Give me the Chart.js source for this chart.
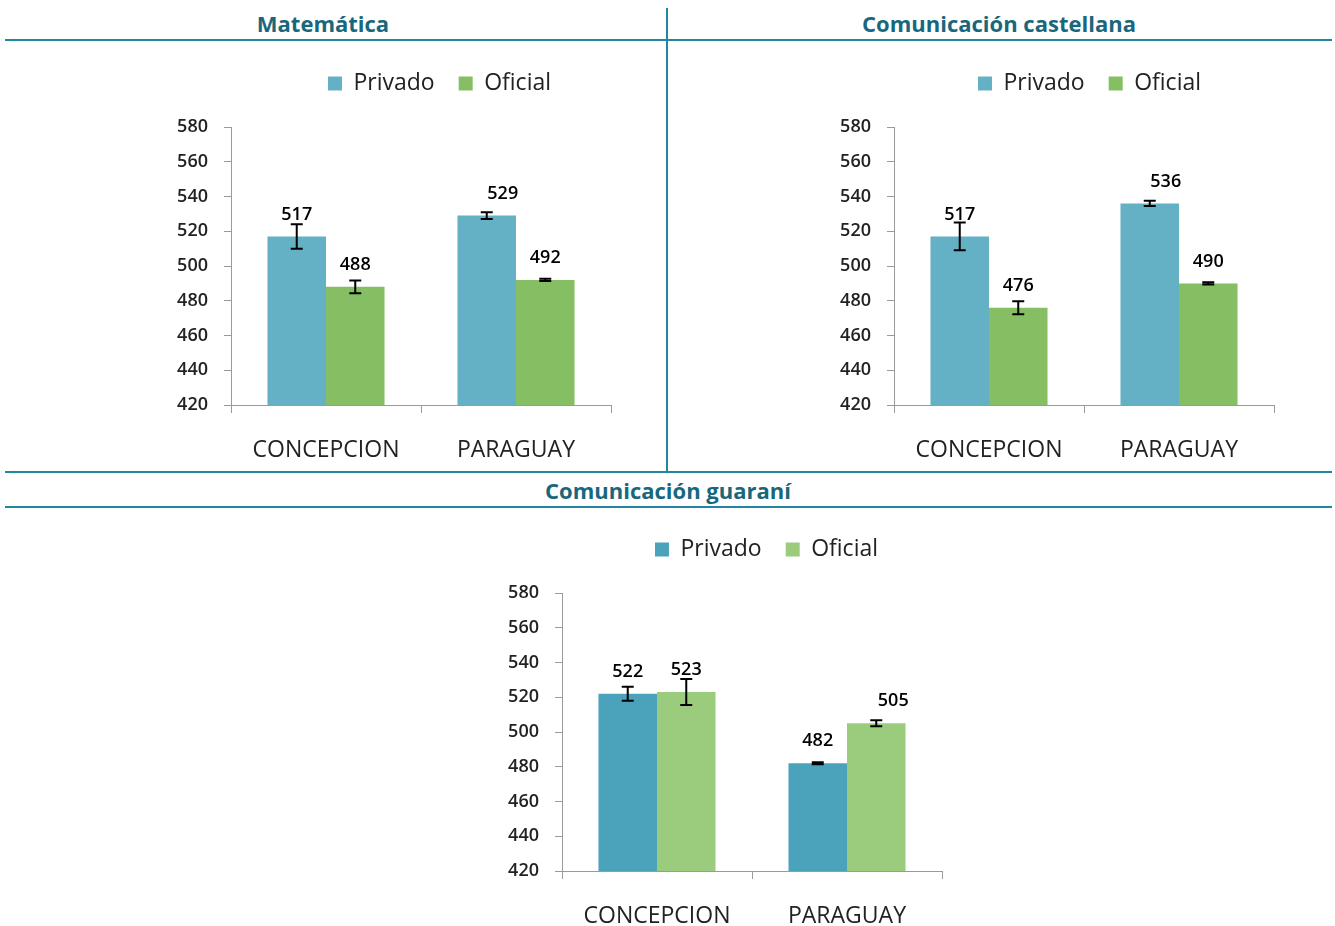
<!DOCTYPE html>
<html>
<head>
<meta charset="utf-8">
<script src="https://cdn.jsdelivr.net/npm/chart.js@4.4.0/dist/chart.umd.min.js"></script>
<style>
  html, body { margin: 0; padding: 0; background: #fff; overflow: hidden; }
  body { width: 1335px; height: 926px; position: relative; }
  .title {
    position: absolute; font-family: "Open Sans", sans-serif; font-weight: 700;
    font-size: 22px; color: #19677d; text-align: center; white-space: nowrap;
    transform: translateX(-50%); line-height: 1;
  }
  .hline { position: absolute; height: 2px; background: #2286a0; }
  .vline { position: absolute; width: 2px; background: #2286a0; }
  .box { position: absolute; }
</style>
</head>
<body>
<div class="title" style="left:323px; top:12px;">Matemática</div>
<div class="title" style="left:999px; top:12px;">Comunicación castellana</div>
<div class="title" style="left:668px; top:479px;">Comunicación guaraní</div>
<div class="hline" style="left:5px; top:39px; width:1327px;"></div>
<div class="hline" style="left:5px; top:471px; width:1327px;"></div>
<div class="hline" style="left:5px; top:506px; width:1327px;"></div>
<div class="vline" style="left:666px; top:8px; height:464px;"></div>

<div class="box" style="left:150px; top:48px; width:463px; height:422px;"><canvas id="mate"></canvas></div>
<div class="box" style="left:813px; top:48px; width:463px; height:422px;"><canvas id="cast"></canvas></div>
<div class="box" style="left:481px; top:514px; width:463px; height:422px;"><canvas id="guar"></canvas></div>

<script>
const categories = ["CONCEPCION", "PARAGUAY"];

// Matemática
const matePrivado = [517, 529];
const mateOficial = [488, 492];
const mateErrPrivado = [7, 2];
const mateErrOficial = [3.7, 0.6];

// Comunicación castellana
const castPrivado = [517, 536];
const castOficial = [476, 490];
const castErrPrivado = [8, 1.5];
const castErrOficial = [3.7, 0.6];

// Comunicación guaraní
const guarPrivado = [522, 482];
const guarOficial = [523, 505];
const guarErrPrivado = [4, 0.6];
const guarErrOficial = [7.5, 1.7];

const yMin = 420, yMax = 580, yStep = 20;

const tickFont = { family: "Open Sans", size: 18, weight: "600" };

// error bars from each dataset's "errors" array
const errorBars = {
  id: "errorBars",
  afterDatasetsDraw(chart) {
    const ctx = chart.ctx;
    const y = chart.scales.y;
    ctx.save();
    ctx.strokeStyle = "#000";
    ctx.lineWidth = 2;
    chart.data.datasets.forEach((ds, i) => {
      const meta = chart.getDatasetMeta(i);
      meta.data.forEach((bar, j) => {
        const v = ds.data[j], e = ds.errors[j];
        const top = y.getPixelForValue(v + e);
        const bot = y.getPixelForValue(v - e);
        ctx.beginPath();
        ctx.moveTo(bar.x, top); ctx.lineTo(bar.x, bot);
        ctx.moveTo(bar.x - 6, top); ctx.lineTo(bar.x + 6, top);
        ctx.moveTo(bar.x - 6, bot); ctx.lineTo(bar.x + 6, bot);
        ctx.stroke();
      });
    });
    ctx.restore();
  }
};

// value labels above the bars
const valueLabels = {
  id: "valueLabels",
  afterDatasetsDraw(chart, args, opts) {
    const ctx = chart.ctx;
    const nudge = opts.nudge || {};
    ctx.save();
    ctx.font = "600 18px 'Open Sans'";
    ctx.fillStyle = "#000";
    ctx.textAlign = "center";
    ctx.textBaseline = "middle";
    chart.data.datasets.forEach((ds, i) => {
      chart.getDatasetMeta(i).data.forEach((bar, j) => {
        const dx = nudge[i + "-" + j] || 0;
        ctx.fillText(String(ds.data[j]), bar.x + dx, bar.y - 22);
      });
    });
    ctx.restore();
  }
};

// fixed room between legend and plot, legend moved sideways
const legendRoom = {
  id: "legendRoom",
  afterInit(chart) {
    const fit = chart.legend.fit;
    chart.legend.fit = function () {
      fit.call(this);
      this.height = 79;
    };
  },
  afterLayout(chart, args, opts) {
    const dx = opts.shift || 0;
    chart.legend.left += dx;
    chart.legend.right += dx;
  }
};

function makeChart(id, privado, oficial, errP, errO, colP, colO, shift, nudge) {
  return new Chart(document.getElementById(id), {
    type: "bar",
    data: {
      labels: categories,
      datasets: [
        { label: "Privado", data: privado, errors: errP, backgroundColor: colP },
        { label: "Oficial", data: oficial, errors: errO, backgroundColor: colO }
      ]
    },
    options: {
      responsive: true,
      maintainAspectRatio: false,
      animation: false,
      layout: { padding: { left: 0, right: 2, top: 0, bottom: 0 } },
      datasets: { bar: { barPercentage: 1, categoryPercentage: 0.616 } },
      plugins: {
        tooltip: { enabled: false },
        legend: {
          display: true,
          position: "top",
          labels: {
            boxWidth: 14, boxHeight: 14, padding: 24,
            color: "#222",
            font: { family: "Open Sans", size: 23 }
          }
        },
        legendRoom: { shift: shift },
        valueLabels: { nudge: nudge }
      },
      scales: {
        x: {
          afterFit(s) { s.height = 65; },
          grid: { display: true, drawOnChartArea: false, offset: true, tickLength: 8, color: "#9a9a9a" },
          border: { color: "#9a9a9a", width: 1 },
          ticks: { color: "#222", padding: 24, font: { family: "Open Sans", size: 23 } }
        },
        y: {
          min: yMin, max: yMax,
          afterFit(s) { s.width = 81; },
          grid: { display: true, drawOnChartArea: false, tickLength: 7, color: "#9a9a9a" },
          border: { color: "#9a9a9a", width: 1 },
          ticks: { stepSize: yStep, color: "#222", padding: 16, font: tickFont }
        }
      }
    },
    plugins: [errorBars, valueLabels, legendRoom]
  });
}

makeChart("mate", matePrivado, mateOficial, mateErrPrivado, mateErrOficial,
  "#64b0c5", "#86be64", 59, { "0-1": 16 });
makeChart("cast", castPrivado, castOficial, castErrPrivado, castErrOficial,
  "#64b0c5", "#86be64", 46, { "0-1": 16 });
makeChart("guar", guarPrivado, guarOficial, guarErrPrivado, guarErrOficial,
  "#4aa3ba", "#9bcb7c", 55, { "1-1": 17 });
</script>
</body>
</html>
